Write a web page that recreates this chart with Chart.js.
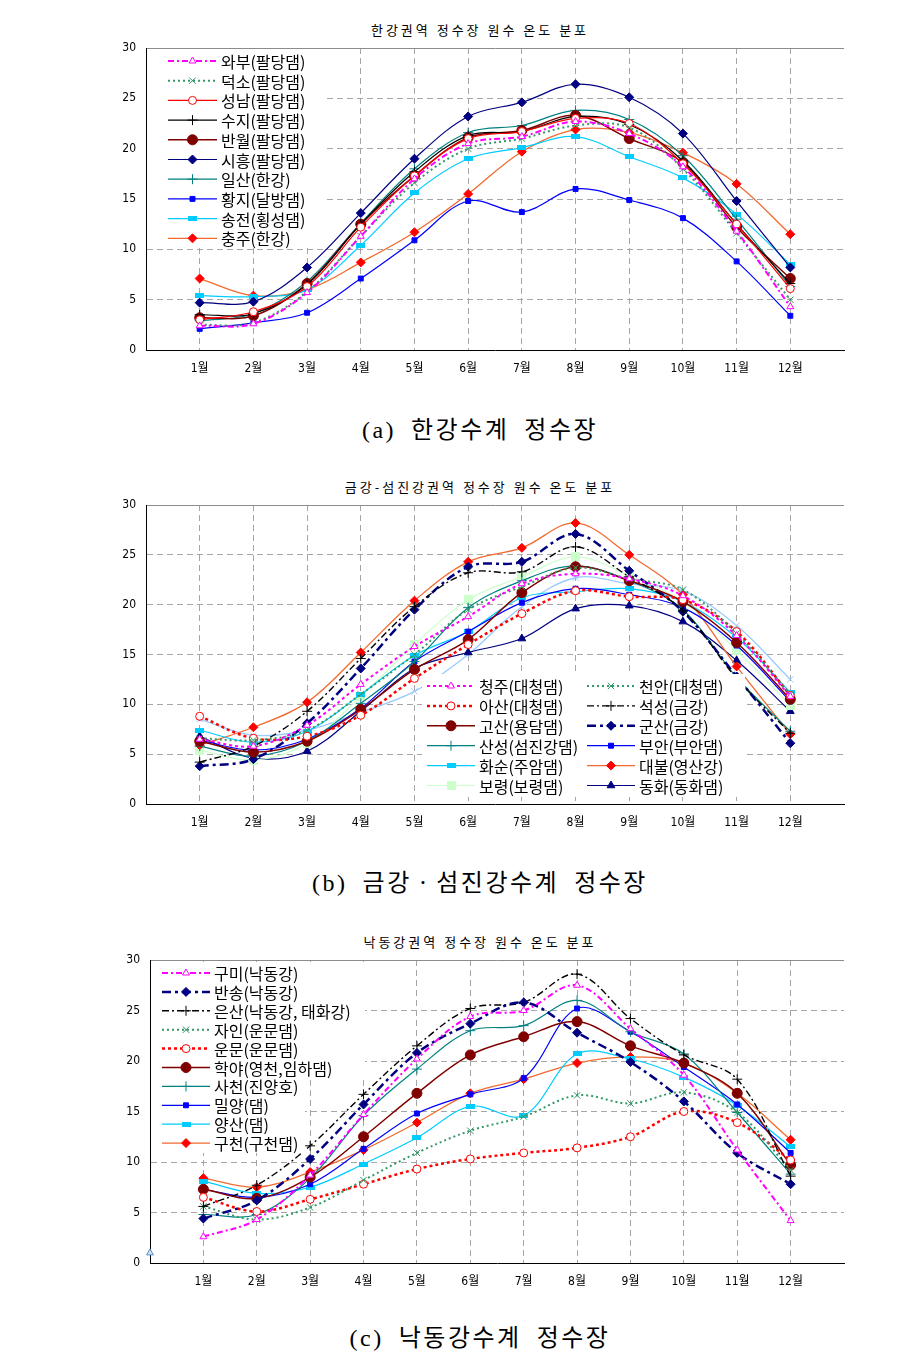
<!DOCTYPE html>
<html><head><meta charset="utf-8">
<script src="https://cdn.jsdelivr.net/npm/chart.js@4.4.1/dist/chart.umd.min.js"></script>
<style>
html,body{margin:0;padding:0;background:#fff;}
body{width:917px;height:1365px;position:relative;overflow:hidden;font-family:'Noto Sans CJK KR',sans-serif;}
.cv{position:absolute;left:0;}
.title{position:absolute;left:0;width:960px;text-align:center;font-size:13px;line-height:16px;letter-spacing:3px;color:#000;white-space:pre;}
.cap{position:absolute;left:0;width:960px;text-align:center;font-size:24px;line-height:28px;letter-spacing:2.5px;word-spacing:-1px;white-space:pre;color:#000;font-family:'Liberation Serif','Noto Sans CJK KR',serif;}
</style></head>
<body>
<div class="title" style="top:22px">한강권역 정수장 원수 온도 분포</div>
<canvas id="ca" class="cv" style="top:0px" width="917" height="380"></canvas>
<div class="cap" style="top:416px">(a)  한강수계  정수장</div>

<div class="title" style="top:479px">금강-섬진강권역 정수장 원수 온도 분포</div>
<canvas id="cb" class="cv" style="top:460px" width="917" height="374"></canvas>
<div class="cap" style="top:869px">(b)  금강ㆍ섬진강수계  정수장</div>

<div class="title" style="top:934px">낙동강권역 정수장 원수 온도 분포</div>
<canvas id="cc" class="cv" style="top:915px" width="917" height="378"></canvas>
<div class="cap" style="top:1324px">(c)  낙동강수계  정수장</div>

<script>
// ---------- categories / tick labels ----------
const months = ['1월','2월','3월','4월','5월','6월','7월','8월','9월','10월','11월','12월'];
const yTicks = [0, 5, 10, 15, 20, 25, 30];

// ---------- (a) 한강권역 ----------
const aNames = ['와부(팔당댐)','덕소(팔당댐)','성남(팔당댐)','수지(팔당댐)','반월(팔당댐)','시흥(팔당댐)','일산(한강)','황지(달방댐)','송전(횡성댐)','충주(한강)'];
const aWabu     = [2.4, 2.6, 5.7, 11.3, 17.0, 20.5, 21.2, 22.7, 21.5, 18.2, 11.8, 4.3];
const aDeokso   = [2.5, 2.7, 5.8, 11.3, 16.6, 20.0, 21.0, 22.3, 22.1, 18.0, 11.6, 5.0];
const aSeongnam = [3.0, 3.8, 6.3, 12.2, 17.3, 21.0, 21.7, 23.0, 22.5, 18.5, 12.5, 6.1];
const aSuji     = [3.5, 3.6, 6.5, 12.5, 17.7, 21.3, 21.7, 23.2, 22.4, 18.8, 12.5, 6.6];
const aBanwol   = [3.2, 3.4, 6.6, 12.5, 17.3, 21.1, 21.8, 23.3, 21.0, 18.6, 12.2, 7.1];
const aSiheung  = [4.7, 4.8, 8.2, 13.6, 19.0, 23.2, 24.6, 26.4, 25.1, 21.5, 14.8, 8.2];
const aIlsan    = [2.9, 3.6, 6.8, 12.6, 18.0, 21.6, 22.3, 23.8, 22.9, 19.3, 13.0, 6.3];
const aHwangji  = [2.1, 2.7, 3.7, 7.1, 10.9, 14.8, 13.7, 16.0, 14.9, 13.1, 8.8, 3.4];
const aSongjeon = [5.4, 5.3, 6.0, 10.4, 15.6, 19.0, 20.1, 21.2, 19.2, 17.1, 13.5, 8.5];
const aChungju  = [7.1, 5.4, 6.0, 8.7, 11.7, 15.5, 19.7, 21.9, 21.6, 19.6, 16.5, 11.5];

// ---------- (b) 금강-섬진강권역 ----------
const bNames = ['청주(대청댐)','천안(대청댐)','아산(대청댐)','석성(금강)','고산(용담댐)','군산(금강)','산성(섬진강댐)','부안(부안댐)','화순(주암댐)','대불(영산강)','보령(보령댐)','동화(동화댐)',''];
const bCheongju  = [6.5, 5.8, 7.9, 12.0, 15.8, 18.8, 22.1, 23.1, 22.6, 20.9, 16.9, 10.8];
const bCheonan   = [6.6, 6.4, 7.4, 11.0, 15.0, 19.5, 21.8, 23.7, 22.6, 21.5, 17.1, 11.0];
const bAsan      = [8.8, 6.6, 6.8, 8.9, 12.6, 16.0, 19.1, 21.4, 20.8, 20.5, 17.3, 10.9];
const bSeokseong = [4.2, 5.8, 9.3, 14.6, 19.8, 23.2, 23.3, 25.8, 22.8, 19.4, 12.6, 7.1];
const bGosan     = [6.3, 5.2, 6.3, 9.5, 13.5, 16.5, 21.2, 23.8, 22.4, 20.3, 16.2, 10.5];
const bGunsan    = [3.8, 4.5, 8.1, 13.6, 19.5, 23.8, 24.3, 27.1, 23.4, 19.3, 12.8, 6.1];
const bSanseong  = [5.8, 4.8, 6.3, 10.1, 14.3, 19.7, 22.4, 23.9, 22.4, 19.5, 12.7, 7.3];
const bBuan      = [6.4, 5.4, 6.5, 9.6, 14.3, 17.3, 20.2, 21.6, 21.0, 19.7, 15.9, 10.3];
const bHwasun    = [7.4, 6.2, 7.3, 11.0, 14.9, 17.3, 20.7, 21.3, 21.6, 20.3, 16.7, 11.2];
const bDaebul    = [5.9, 7.7, 10.2, 15.2, 20.4, 24.3, 25.7, 28.2, 25.0, 21.0, 13.8, 7.0];
const bBoryeong  = [5.4, 4.4, 6.1, 10.8, 16.0, 20.5, 22.8, 24.8, 22.9, 20.3, 15.4, 9.9];
const bDonghwa   = [6.8, 4.6, 5.3, 9.3, 13.6, 15.2, 16.6, 19.6, 19.9, 18.3, 14.4, 9.3];
const bUnlabeled = [8.5, 6.9, 7.4, 9.2, 11.3, 15.0, 19.8, 22.7, 22.1, 21.4, 17.9, 12.5];

// ---------- (c) 낙동강권역 ----------
const cNames = ['구미(낙동강)','반송(낙동강)','은산(낙동강, 태화강)','자인(운문댐)','운문(운문댐)','학야(영천,임하댐)','사천(진양호)','밀양(댐)','양산(댐)','구천(구천댐)',''];
const cGumi    = [2.6, 4.3, 8.7, 14.7, 20.2, 24.4, 25.0, 27.5, 23.2, 18.6, 11.2, 4.2];
const cBansong = [4.4, 6.2, 10.3, 15.7, 20.8, 23.7, 25.8, 22.8, 19.9, 16.0, 10.9, 7.8];
const cEunsan  = [5.6, 7.7, 11.6, 16.7, 21.5, 25.2, 25.8, 28.6, 24.2, 20.6, 18.2, 8.6];
const cJain    = [5.6, 4.3, 5.5, 8.2, 10.9, 13.1, 14.5, 16.6, 15.8, 16.9, 14.9, 9.2];
const cUnmun   = [6.5, 5.1, 6.3, 7.8, 9.3, 10.3, 10.9, 11.4, 12.5, 15.0, 13.9, 10.2];
const cHagya   = [7.3, 6.4, 8.5, 12.5, 16.8, 20.6, 22.4, 23.9, 21.5, 19.8, 16.8, 9.7];
const cSacheon = [4.8, 4.8, 8.4, 14.6, 19.2, 23.0, 23.5, 26.0, 22.9, 20.7, 14.9, 8.8];
const cMiryang = [7.3, 6.5, 7.8, 11.3, 14.8, 16.7, 18.3, 25.2, 22.9, 19.4, 15.7, 10.9];
const cYangsan = [8.1, 6.9, 7.5, 9.8, 12.4, 15.5, 14.6, 20.7, 20.2, 18.4, 15.6, 11.5];
const cGucheon = [8.4, 7.5, 9.0, 11.2, 13.9, 16.8, 18.2, 19.8, 20.4, 19.8, 16.8, 12.2];
const cStrayPos = [0];      // stray point on the axis (category position 0)
const cStrayVal = [1.0];

// ---------- helpers ----------
function pts(vals){ return vals.map((v,i)=>({x:i+1, y:v})); }
function rectImg(w,h,color){const c=document.createElement('canvas');c.width=w;c.height=h;const x=c.getContext('2d');x.fillStyle=color;x.fillRect(0,0,w,h);return c;}
const cyanMark = rectImg(9,5,'#00CCFF');
const greenMark = rectImg(9,9,'#CCFFCC');

function ds(label, vals, s){
  return {
    label: label, data: pts(vals),
    borderColor: s.c, borderWidth: s.w || 1.2, borderDash: s.d || [],
    pointStyle: s.ps, pointRadius: s.r || 4,
    pointBackgroundColor: s.fill === undefined ? s.c : s.fill,
    pointBorderColor: s.pc || s.c, pointBorderWidth: s.pw || 1,
    pointHoverRadius: s.r || 4,
    tension: 0.35, fill: false
  };
}

const S = {
  magDashDot: {c:'#FF00FF', w:2, d:[6,3,2,3], ps:'triangle', r:4, fill:'#fff'},
  greenDot:   {c:'#339966', w:2, d:[2,3], ps:'crossRot', r:4.5},
  redCircle:  {c:'#FF0000', w:1.2, ps:'circle', r:4, fill:'#fff'},
  blackPlus:  {c:'#000000', w:1.2, ps:'cross', r:5},
  darkRed:    {c:'#800000', w:1.5, ps:'circle', r:5},
  navyDia:    {c:'#000080', w:1.2, ps:'rectRot', r:4.5},
  tealPlus:   {c:'#008080', w:1.2, ps:'cross', r:5},
  blueSq:     {c:'#0000FF', w:1.2, ps:'rect', r:3.5},
  cyanSq:     {c:'#00CCFF', w:1.2, ps:cyanMark, r:4},
  orangeDia:  {c:'#F26A2E', w:1.3, ps:'rectRot', r:4.5, fill:'#FF0000', pc:'#FF0000'},
  magDot:     {c:'#FF00FF', w:2, d:[3,3], ps:'triangle', r:4, fill:'#fff'},
  redDot:     {c:'#FF0000', w:2.5, d:[3,3], ps:'circle', r:4, fill:'#fff'},
  blackDashDot:{c:'#000000', w:1.4, d:[7,3,2,3], ps:'cross', r:5},
  navyDashDot:{c:'#000080', w:2.5, d:[9,4,3,4], ps:'rectRot', r:4.5},
  lightGreen: {c:'#CCFFCC', w:1.2, ps:greenMark, r:4},
  navyTri:    {c:'#000080', w:1.2, ps:'triangle', r:4.5},
  paleBlueX:  {c:'#99CCFF', w:1.3, ps:'crossRot', r:4.5},
};

const dsA = [
  ds(aNames[0], aWabu, S.magDashDot),
  ds(aNames[1], aDeokso, S.greenDot),
  ds(aNames[2], aSeongnam, S.redCircle),
  ds(aNames[3], aSuji, S.blackPlus),
  ds(aNames[4], aBanwol, S.darkRed),
  ds(aNames[5], aSiheung, S.navyDia),
  ds(aNames[6], aIlsan, S.tealPlus),
  ds(aNames[7], aHwangji, S.blueSq),
  ds(aNames[8], aSongjeon, S.cyanSq),
  ds(aNames[9], aChungju, S.orangeDia),
];
const dsB = [
  ds(bNames[0], bCheongju, S.magDot),
  ds(bNames[1], bCheonan, S.greenDot),
  ds(bNames[2], bAsan, S.redDot),
  ds(bNames[3], bSeokseong, S.blackDashDot),
  ds(bNames[4], bGosan, S.darkRed),
  ds(bNames[5], bGunsan, S.navyDashDot),
  ds(bNames[6], bSanseong, S.tealPlus),
  ds(bNames[7], bBuan, S.blueSq),
  ds(bNames[8], bHwasun, S.cyanSq),
  ds(bNames[9], bDaebul, S.orangeDia),
  ds(bNames[10], bBoryeong, S.lightGreen),
  ds(bNames[11], bDonghwa, S.navyTri),
  ds(bNames[12], bUnlabeled, S.paleBlueX),
];
const dsC = [
  ds(cNames[0], cGumi, S.magDashDot),
  ds(cNames[1], cBansong, S.navyDashDot),
  ds(cNames[2], cEunsan, S.blackDashDot),
  ds(cNames[3], cJain, S.greenDot),
  ds(cNames[4], cUnmun, S.redDot),
  ds(cNames[5], cHagya, S.darkRed),
  ds(cNames[6], cSacheon, S.tealPlus),
  ds(cNames[7], cMiryang, S.blueSq),
  ds(cNames[8], cYangsan, S.cyanSq),
  ds(cNames[9], cGucheon, S.orangeDia),
  {label: cNames[10], data: cStrayPos.map((p,i)=>({x:p, y:cStrayVal[i]})), showLine:false,
   pointStyle:'triangle', pointRadius:4, pointBackgroundColor:'#CFE3F5', pointBorderColor:'#5B8FC8', pointBorderWidth:1, clip:false},
];

// ---------- legend drawn over the plot (white fill) ----------
const boxLegend = {
  id: 'boxLegend',
  afterDatasetsDraw(chart, args, o) {
    if (!o || !o.items) return;
    const ctx = chart.ctx;
    ctx.save();
    ctx.fillStyle = '#fff';
    o.boxes.forEach(b => ctx.fillRect(b[0], b[1], b[2], b[3]));
    ctx.font = o.font;
    ctx.textBaseline = 'middle';
    ctx.textAlign = 'left';
    o.items.forEach(it => {
      const d = chart.data.datasets[it.i];
      const x = it.x, y = it.y, L = o.lineLen;
      ctx.strokeStyle = d.borderColor; ctx.lineWidth = d.borderWidth;
      ctx.setLineDash(d.borderDash || []);
      ctx.beginPath(); ctx.moveTo(x, y); ctx.lineTo(x + L, y); ctx.stroke();
      ctx.setLineDash([]);
      ctx.fillStyle = d.pointBackgroundColor; ctx.strokeStyle = d.pointBorderColor; ctx.lineWidth = d.pointBorderWidth;
      Chart.helpers.drawPoint(ctx, {pointStyle: d.pointStyle, radius: d.pointRadius, rotation: 0, borderWidth: d.pointBorderWidth}, x + L/2, y);
      ctx.fillStyle = '#000';
      ctx.fillText(d.label, x + L + o.gap, y + 1);
    });
    ctx.restore();
  }
};

const tickFont = {family: "'Liberation Sans Narrow','DejaVu Sans Condensed','Noto Sans CJK KR',sans-serif", size: 12};

function makeChart(id, datasets, left, top, legendOpts){
  return new Chart(document.getElementById(id), {
    type: 'line',
    data: {datasets: datasets},
    plugins: [boxLegend],
    options: {
      responsive: false, animation: false, events: [],
      layout: {padding: {left: 0, right: 917 - 844, top: top, bottom: 0}},
      plugins: {legend: {display: false}, tooltip: {enabled: false}, title: {display: false}, boxLegend: legendOpts},
      scales: {
        x: {
          type: 'linear', min: 0, max: 13,
          afterFit: s => { s.height = 30; },
          ticks: {stepSize: 1, autoSkip: false, maxRotation: 0, color: '#000', font: tickFont, padding: 12,
                  callback: v => (v >= 1 && v <= 12) ? months[v - 1] : ''},
          grid: {drawTicks: false,
                 color: c => (c.tick && c.tick.value >= 1 && c.tick.value <= 12) ? '#A6A6A6' : 'rgba(0,0,0,0)'},
          border: {color: '#000', width: 1, dash: [6, 4]}
        },
        y: {
          min: yTicks[0], max: yTicks[yTicks.length - 1],
          afterFit: s => { s.width = left; },
          afterBuildTicks: s => { s.ticks = yTicks.map(v => ({value: v})); },
          ticks: {color: '#000', font: tickFont, padding: 10},
          grid: {drawTicks: false,
                 color: c => (!c.tick || c.tick.value === 0) ? 'rgba(0,0,0,0)' : (c.tick.value === 30 ? '#8C8C8C' : '#A6A6A6')},
          border: {color: '#000', width: 1, dash: c => (c.tick && c.tick.value === 30) ? [] : [6, 4]}
        }
      }
    }
  });
}

const LF = "16px 'Noto Sans CJK KR', sans-serif";

makeChart('ca', dsA, 146, 48, {
  boxes: [[147, 49, 180, 199]], font: LF, lineLen: 49, gap: 4,
  items: dsA.map((d, i) => ({i: i, x: 168, y: 61 + i * 19.7}))
});

makeChart('cb', dsB, 146, 45, {
  boxes: [[422, 214, 323, 123]], font: LF, lineLen: 48, gap: 4,
  items: dsB.slice(0, 12).map((d, i) => ({i: i, x: (i % 2) ? 587 : 427, y: 226 + Math.floor(i / 2) * 19.9}))
});

makeChart('cc', dsC, 150, 45, {
  boxes: [[151, 47, 214, 114], [151, 161, 154, 77]], font: LF, lineLen: 48, gap: 4,
  items: dsC.slice(0, 10).map((d, i) => ({i: i, x: 162, y: 58 + i * 18.9}))
});
</script>
</body></html>
